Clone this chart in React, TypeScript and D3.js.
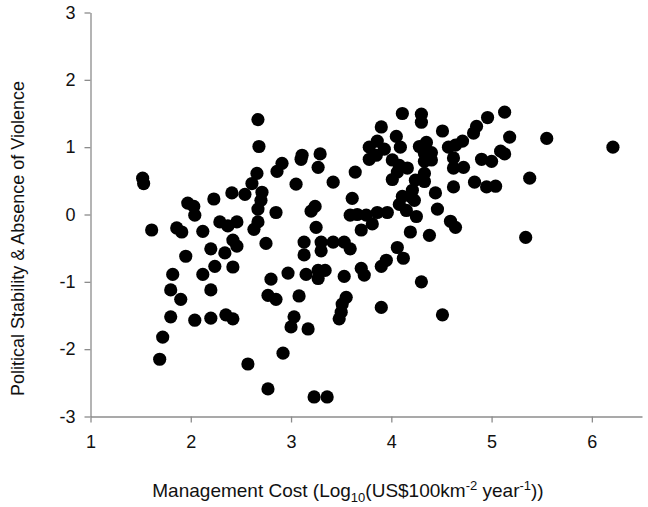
import React, { useEffect, useRef } from "react";
import * as d3 from "d3";

// management cost, log10(US$ 100km-2 yr-1)
const cost = [
  1.52, 1.53, 1.61, 1.69, 1.72, 1.8, 1.8, 1.82, 1.86, 1.91, 1.9, 1.95, 1.97, 2.03, 2.04, 2.04,
  2.12, 2.12, 2.2, 2.2, 2.2, 2.23, 2.24, 2.29, 2.37, 2.35, 2.34, 2.42, 2.41, 2.42, 2.42, 2.46,
  2.46, 2.54, 2.57, 2.61, 2.63, 2.66, 2.67, 2.67, 2.67, 2.68, 2.71, 2.7, 2.75, 2.77, 2.77, 2.8,
  2.85, 2.86, 2.85, 2.91, 2.92, 2.97, 3.0, 3.03, 3.05, 3.08, 3.11, 3.1, 3.13, 3.13, 3.15, 3.17,
  3.2, 3.24, 3.23, 3.25, 3.27, 3.27, 3.29, 3.27, 3.3, 3.3, 3.34, 3.36, 3.42, 3.42, 3.53, 3.59,
  3.53, 3.55, 3.51, 3.5, 3.48, 3.59, 3.64, 3.61, 3.66, 3.7, 3.75, 3.7, 3.73, 3.78, 3.78, 3.81,
  3.85, 3.86, 3.86, 3.9, 3.93, 3.9, 3.95, 3.9, 3.96, 4.01, 4.06, 4.01, 4.05, 4.09, 4.06, 4.08,
  4.11, 4.11, 4.08, 4.12, 4.15, 4.16, 4.19, 4.21, 4.2, 4.24, 4.33, 4.23, 4.25, 4.3, 4.3, 4.3,
  4.28, 4.35, 4.33, 4.4, 4.33, 4.4, 4.33, 4.38, 4.44, 4.46, 4.51, 4.51, 4.57, 4.64, 4.71, 4.62,
  4.62, 4.62, 4.59, 4.64, 4.72, 4.82, 4.85, 4.83, 4.9, 4.96, 4.95, 5.0, 5.04, 5.09, 5.13, 5.13,
  5.18, 5.34, 5.38, 5.55, 6.21,
];

// political stability & absence of violence
const stability = [
  0.54, 0.46, -0.23, -2.15, -1.82, -1.52, -1.12, -0.89, -0.2, -0.26, -1.26, -0.62, 0.17, 0.12, -0.01, -1.57,
  -0.25, -0.89, -0.51, -1.12, -1.54, 0.23, -0.77, -0.11, -0.17, -1.49, -0.57, -1.55, 0.32, -0.78, -0.38, -0.47,
  -0.11, 0.3, -2.22, 0.46, -0.22, 0.61, 0.08, -0.11, 1.41, 1.01, 0.33, 0.21, -0.43, -2.59, -1.2, -0.96,
  -1.26, 0.64, 0.03, 0.76, -2.06, -0.87, -1.67, -1.52, 0.45, -1.21, 0.88, 0.82, -0.41, -0.6, -0.89, -1.7,
  0.05, 0.12, -2.71, -0.19, -0.83, -0.95, 0.9, 0.7, -0.41, -0.54, -0.83, -2.71, 0.48, -0.41, -0.41, -0.51,
  -0.92, -1.23, -1.33, -1.45, -1.55, -0.01, 0.63, 0.24, 0.0, -0.23, -0.01, -0.8, -0.9, 1.0, 0.82, -0.14,
  0.88, 1.09, 0.03, 1.3, 0.97, -0.77, -0.68, -1.38, 0.03, 0.81, 0.63, 0.52, 1.16, 1.0, -0.49, 0.73,
  1.5, 0.27, 0.15, -0.65, 0.06, 0.69, -0.26, 0.36, 0.26, 0.51, 0.49, 0.21, -0.03, -1.0, 1.49, 1.37,
  1.01, 1.07, 0.91, 0.92, 0.79, 0.81, 0.61, -0.31, 0.32, 0.08, 1.24, -1.49, 1.0, 1.03, 1.09, 0.84,
  0.69, 0.41, -0.1, -0.19, 0.7, 1.21, 1.31, 0.48, 0.82, 1.44, 0.41, 0.79, 0.42, 0.94, 0.9, 1.52,
  1.15, -0.34, 0.54, 1.13, 1.0,
];

const xTicks = [1, 2, 3, 4, 5, 6];
const yTicks = [-3, -2, -1, 0, 1, 2, 3];

const axisColor = "#8c8c8c";
const font = "'Liberation Sans', Arial, sans-serif";

export default function App() {
  const ref = useRef<SVGSVGElement>(null);

  useEffect(() => {
    const svg = d3.select(ref.current);
    svg.selectAll("*").remove();

    const x = d3.scaleLinear().domain([1, 6.5]).range([90.5, 642]);
    const y = d3.scaleLinear().domain([-3, 3]).range([416.5, 12.5]);

    const xAxis = svg
      .append("g")
      .attr("transform", `translate(0,${y(-3)})`)
      .call(
        d3.axisBottom(x).tickValues(xTicks).tickSize(6).tickSizeOuter(0).tickPadding(13).tickFormat(d3.format("d"))
      );
    const yAxis = svg
      .append("g")
      .attr("transform", `translate(${x(1)},0)`)
      .call(
        d3.axisLeft(y).tickValues(yTicks).tickSize(6).tickSizeOuter(0).tickPadding(9).tickFormat(d3.format("d"))
      );

    [xAxis, yAxis].forEach((g) => {
      g.select(".domain").attr("stroke", axisColor).attr("stroke-width", 1.3);
      g.selectAll(".tick line").attr("stroke", axisColor).attr("stroke-width", 1.3);
      g.selectAll(".tick text")
        .attr("fill", "#111")
        .style("font-family", font)
        .style("font-size", "18px");
    });
    // minus signs as plain hyphens like the original
    yAxis.selectAll(".tick text").text((d: any) => String(d));

    const idx = d3.range(cost.length);
    svg
      .append("g")
      .selectAll("circle")
      .data(idx)
      .join("circle")
      .attr("cx", (i) => x(cost[i]))
      .attr("cy", (i) => y(stability[i]))
      .attr("r", 6.6)
      .attr("fill", "#000");

    // y title
    svg
      .append("text")
      .attr("transform", `translate(24,${(y(3) + y(-3)) / 2 + 24}) rotate(-90)`)
      .attr("text-anchor", "middle")
      .attr("fill", "#111")
      .style("font-family", font)
      .style("font-size", "18px")
      .text("Political Stability & Absence of Violence");

    // x title with sub/superscripts
    const t = svg
      .append("text")
      .attr("x", 348)
      .attr("y", 497)
      .attr("text-anchor", "middle")
      .attr("fill", "#111")
      .style("font-family", font)
      .style("font-size", "19px");
    t.append("tspan").text("Management Cost (Log");
    t.append("tspan").attr("dy", 5).style("font-size", "13px").text("10");
    t.append("tspan").attr("dy", -5).text("(US$100km");
    t.append("tspan").attr("dy", -7).style("font-size", "13px").text("-2");
    t.append("tspan").attr("dy", 7).text(" year");
    t.append("tspan").attr("dy", -7).style("font-size", "13px").text("-1");
    t.append("tspan").attr("dy", 7).text("))");
  }, []);

  return (
    <svg
      ref={ref}
      width={648}
      height={507}
      style={{ position: "absolute", left: 0, top: 0, background: "#fff" }}
    />
  );
}
